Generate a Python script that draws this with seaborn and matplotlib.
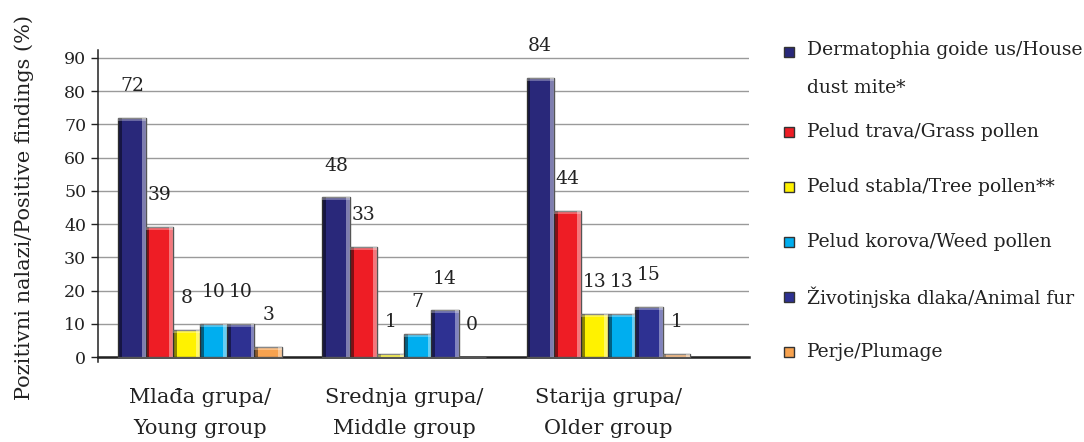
import matplotlib.pyplot as plt
import matplotlib.patches as mpatches
import seaborn as sns
import pandas as pd

# Data
groups = ["Mlađa grupa/\nYoung group", "Srednja grupa/\nMiddle group", "Starija grupa/\nOlder group"]
allergens = ["Dermatophia goide us/House\ndust mite*", "Pelud trava/Grass pollen",
             "Pelud stabla/Tree pollen**", "Pelud korova/Weed pollen",
             "Životinjska dlaka/Animal fur", "Perje/Plumage"]
house_dust_mite = [72, 48, 84]
grass_pollen = [39, 33, 44]
tree_pollen = [8, 1, 13]
weed_pollen = [10, 7, 13]
animal_fur = [10, 14, 15]
plumage = [3, 0, 1]
colors = ["#29287A", "#EE1D25", "#FFF200", "#00AEEF", "#2E3192", "#F7A24F"]

series = [house_dust_mite, grass_pollen, tree_pollen, weed_pollen, animal_fur, plumage]
rows = []
for name, vals in zip(allergens, series):
    for g, v in zip(groups, vals):
        rows.append({"group": g, "allergen": name, "value": v})
df = pd.DataFrame(rows)

sns.set_style("white")
plt.rcParams["font.family"] = ["DejaVu Serif"]

fig = plt.figure(figsize=(10.84, 4.42), dpi=100)
ax = fig.add_axes([0.0904, 0.181, 0.6006, 0.706])

sns.barplot(data=df, x="group", y="value", hue="allergen", order=groups,
            hue_order=allergens, palette=colors, width=0.8, saturation=1,
            edgecolor="#555555", linewidth=1, legend=False, ax=ax, zorder=3)

# fake bevel like the old 3D excel bars
for cont in ax.containers:
    for bar in cont:
        x, y = bar.get_x(), bar.get_y()
        w, h = bar.get_width(), bar.get_height()
        if h <= 0:
            continue
        ax.add_patch(mpatches.Rectangle((x, y), w * 0.14, h, color="black",
                                        alpha=0.45, lw=0, zorder=4))
        ax.add_patch(mpatches.Rectangle((x + w * 0.86, y), w * 0.14, h, color="white",
                                        alpha=0.4, lw=0, zorder=4))
        ax.add_patch(mpatches.Rectangle((x, y + h - min(h, 0.9)), w, min(h, 0.9),
                                        color="white", alpha=0.3, lw=0, zorder=4))

# value labels
for cont, vals in zip(ax.containers, series):
    for bar, v in zip(cont, vals):
        ax.annotate(str(v), (bar.get_x() + bar.get_width() / 2, bar.get_height()),
                    xytext=(0, 23), textcoords="offset points", ha="center",
                    va="center", fontsize=13.5, color="#222222", zorder=5)

ax.set_xlim(-0.5, 2.69)
ax.set_ylim(-1.5, 92.4)
ax.set_yticks(range(0, 100, 10))
ax.yaxis.grid(True, color="#9a9a9a", lw=1.0, zorder=0)
ax.set_axisbelow(True)
for s in ["top", "right"]:
    ax.spines[s].set_visible(False)
ax.spines["bottom"].set_position(("data", 0))
ax.spines["bottom"].set_linewidth(1.8)
ax.spines["bottom"].set_color("#222222")
ax.spines["left"].set_linewidth(1.1)
ax.spines["left"].set_color("#222222")

ax.set_xticks([0, 1, 2])
ax.set_xticklabels(groups, fontsize=15, linespacing=1.85, color="#222222")
ax.set_xticks([0.5, 1.5, 2.5], minor=True)
ax.tick_params(axis="x", which="major", length=0, pad=22)
ax.tick_params(axis="x", which="minor", length=5, width=1, direction="out", color="#222222")
ax.tick_params(axis="y", length=5, width=1, left=True, labelsize=12.5, colors="#222222")
ax.set_xlabel("")
ax.set_ylabel("")

fig.text(24 / 1084, 1 - 208 / 442, "Pozitivni nalazi/Positive findings (%)",
         rotation=90, ha="center", va="center", fontsize=15, color="#222222")

# legend drawn by hand to mimic the wrapped first entry
leg_y = [52, 132, 187, 242, 297, 352]
for name, c, yy in zip(allergens, colors, leg_y):
    fig.patches.append(mpatches.Rectangle((784 / 1084, 1 - (yy + 5) / 442), 10 / 1084, 10 / 442,
                                          transform=fig.transFigure, facecolor=c,
                                          edgecolor="#333333", lw=1))
    if "\n" in name:
        fig.text(807 / 1084, 1 - (yy - 11) / 442, name, ha="left", va="top",
                 fontsize=13.5, linespacing=2.45, color="#222222")
    else:
        fig.text(807 / 1084, 1 - yy / 442, name, ha="left", va="center",
                 fontsize=13.5, color="#222222")

fig.savefig("out.png", dpi=100)
